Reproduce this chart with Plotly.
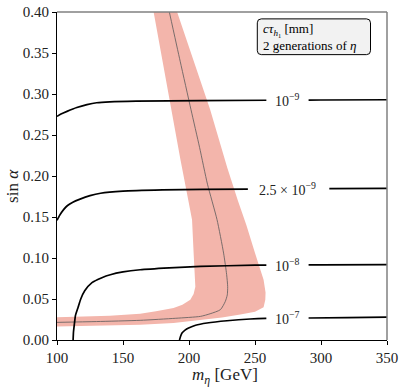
import numpy as np
import plotly.graph_objects as go

# ---------------- data ----------------
band_upper_m = [173.2, 179.8, 186.4, 193.5, 199.5, 202.3, 203.5, 204.5, 204.8, 203.5, 201.0, 195.0, 188.3, 175.0, 163.0, 140.0, 120.0, 100.0]
band_upper_s = [0.400, 0.340, 0.281, 0.220, 0.170, 0.1467, 0.106, 0.080, 0.065, 0.056, 0.049, 0.043, 0.039, 0.035, 0.032, 0.0295, 0.0284, 0.0276]
band_lower_m = [191.0, 203.5, 216.0, 229.0, 237.0, 243.5, 250.0, 256.5, 258.0, 257.8, 256.5, 250.0, 238.9, 225.0, 213.6, 188.3, 163.0, 130.0, 100.0]
band_lower_s = [0.400, 0.340, 0.281, 0.210, 0.170, 0.140, 0.106, 0.0735, 0.058, 0.049, 0.040, 0.0345, 0.031, 0.0275, 0.0248, 0.0207, 0.0187, 0.0173, 0.0166]
center_m = [185.1, 193.3, 201.5, 208.0, 214.0, 221.2, 226.2, 228.5, 229.3, 229.0, 227.5, 223.8, 216.0, 208.7, 190.0, 163.0, 130.0, 100.0]
center_s = [0.400, 0.340, 0.281, 0.235, 0.190, 0.147, 0.106, 0.080, 0.065, 0.055, 0.047, 0.037, 0.032, 0.0288, 0.0265, 0.024, 0.0225, 0.0215]

c1_m = [100.0, 103.0, 107.6, 115.0, 122.7, 130.0, 140.0, 160.0, 208.7, 260.0, 300.0, 350.0]
c1_s = [0.2727, 0.2755, 0.2788, 0.2835, 0.2870, 0.2893, 0.2905, 0.2913, 0.2918, 0.2924, 0.2927, 0.2930]
c2_m = [100.0, 102.0, 105.0, 108.0, 112.0, 117.0, 125.0, 133.0, 150.0, 180.0, 210.0, 260.0, 300.0, 350.0]
c2_s = [0.1459, 0.1520, 0.1590, 0.1640, 0.1680, 0.1715, 0.1760, 0.1790, 0.1815, 0.1830, 0.1838, 0.1842, 0.1845, 0.1848]
c3_m = [112.2, 112.5, 113.2, 114.0, 116.0, 118.0, 121.0, 126.5, 134.0, 140.4, 150.0, 163.0, 185.0, 208.7, 250.0, 300.0, 350.0]
c3_s = [0.000, 0.010, 0.020, 0.030, 0.040, 0.050, 0.060, 0.070, 0.076, 0.0796, 0.083, 0.0857, 0.088, 0.0898, 0.0912, 0.0917, 0.0920]
c4_m = [192.8, 193.5, 194.7, 197.0, 199.7, 205.0, 213.6, 228.8, 246.4, 258.0, 290.0, 320.0, 350.0]
c4_s = [0.000, 0.004, 0.0085, 0.012, 0.0146, 0.018, 0.0207, 0.0235, 0.0256, 0.0263, 0.0268, 0.0274, 0.0280]

contour_labels = ["10<sup>−9</sup>", "2.5 × 10<sup>−9</sup>", "10<sup>−8</sup>", "10<sup>−7</sup>"]
label_m = 274.5
label_gaps = [(258.6, 290.6), (244.6, 306.3), (258.6, 290.6), (258.6, 290.6)]

x_ticks = [100, 150, 200, 250, 300, 350]
y_ticks = [0.00, 0.05, 0.10, 0.15, 0.20, 0.25, 0.30, 0.35, 0.40]

FONT = "Liberation Serif, Times New Roman, serif"

fig = go.Figure()

fig.add_trace(go.Scatter(
    x=band_upper_m + band_lower_m[::-1],
    y=band_upper_s + band_lower_s[::-1],
    fill="toself", fillcolor="#F3B5AB", line=dict(width=0),
    mode="lines", hoverinfo="skip", showlegend=False))

fig.add_trace(go.Scatter(
    x=center_m, y=center_s, mode="lines",
    line=dict(color="rgba(100,95,95,0.85)", width=1, shape="spline", smoothing=0.6),
    showlegend=False))

contours = [(c1_m, c1_s), (c2_m, c2_s), (c3_m, c3_s), (c4_m, c4_s)]
for (cm, cs), (gl, gr), lab in zip(contours, label_gaps, contour_labels):
    cm = np.array(cm); cs = np.array(cs)
    yl = float(np.interp(gl, cm, cs)); yr = float(np.interp(gr, cm, cs))
    xs = list(cm[cm < gl]) + [gl, None, gr] + list(cm[cm > gr])
    ys = list(cs[cm < gl]) + [yl, None, yr] + list(cs[cm > gr])
    fig.add_trace(go.Scatter(x=xs, y=ys, mode="lines",
                             line=dict(color="black", width=1.7, shape="spline", smoothing=0.5),
                             connectgaps=False, showlegend=False))
    ylab = float(np.interp(label_m, cm, cs))
    fig.add_annotation(x=label_m, y=ylab, text=lab, showarrow=False,
                       font=dict(family=FONT, size=14, color="#222"),
                       xanchor="center", yanchor="middle")

# legend-like box (rounded)
x0, x1, y0, y1 = 0.607, 0.95, 0.87, 0.979
rx, ry = 0.012, 0.012
path = (f"M {x0+rx},{y0} L {x1-rx},{y0} Q {x1},{y0} {x1},{y0+ry} "
        f"L {x1},{y1-ry} Q {x1},{y1} {x1-rx},{y1} L {x0+rx},{y1} "
        f"Q {x0},{y1} {x0},{y1-ry} L {x0},{y0+ry} Q {x0},{y0} {x0+rx},{y0} Z")
fig.add_shape(type="path", path=path, xref="paper", yref="paper",
              fillcolor="#F2F2F2", line=dict(color="black", width=1))
fig.add_annotation(x=x0 + 0.01, y=(y0 + y1) / 2, xref="paper", yref="paper",
                   text="<i>cτ</i><sub><i>h</i><sub>1</sub></sub> [mm]<br>2 generations of <i>η</i>",
                   showarrow=False, align="left", xanchor="left", yanchor="middle",
                   font=dict(family=FONT, size=13, color="black"))

# axis titles as annotations
fig.add_annotation(x=0.51, y=-0.07, xref="paper", yref="paper", yanchor="top",
                   text="<i>m</i><sub><i>η</i></sub> [GeV]", showarrow=False,
                   font=dict(family=FONT, size=17, color="#222"))
fig.add_annotation(x=-0.133, y=0.47, xref="paper", yref="paper", xanchor="center",
                   text="sin <i>α</i>", showarrow=False, textangle=-90,
                   font=dict(family=FONT, size=17, color="#222"))

# top and right spines in gray
fig.add_shape(type="line", xref="paper", yref="paper", x0=0, x1=1, y0=1, y1=1,
              line=dict(color="#808080", width=1.5))
fig.add_shape(type="line", xref="paper", yref="paper", x0=1, x1=1, y0=0, y1=1,
              line=dict(color="#808080", width=1.5))

fig.update_layout(
    width=404, height=388,
    margin=dict(l=57, r=17, t=12, b=48, autoexpand=False),
    plot_bgcolor="white", paper_bgcolor="white",
    font=dict(family=FONT, size=15, color="#222"),
    xaxis=dict(range=[100, 350], tickvals=x_ticks, ticktext=[str(v) for v in x_ticks],
               showgrid=False, zeroline=False, showline=True, linecolor="black", linewidth=1,
               ticks="outside", ticklen=4, tickwidth=0.8, tickcolor="black",
               tickfont=dict(family=FONT, size=15), automargin=False),
    yaxis=dict(range=[0, 0.40], tickvals=y_ticks, ticktext=[f"{v:.2f}" for v in y_ticks],
               showgrid=False, zeroline=False, showline=True, linecolor="black", linewidth=1,
               ticks="outside", ticklen=4, tickwidth=0.8, tickcolor="black",
               tickfont=dict(family=FONT, size=15), automargin=False),
)

# remove the default 8px page margin so the figure sits at the window's corner
fig.write_html("out.html", config={"displayModeBar": False},
               post_script="document.body.style.margin='0';")
